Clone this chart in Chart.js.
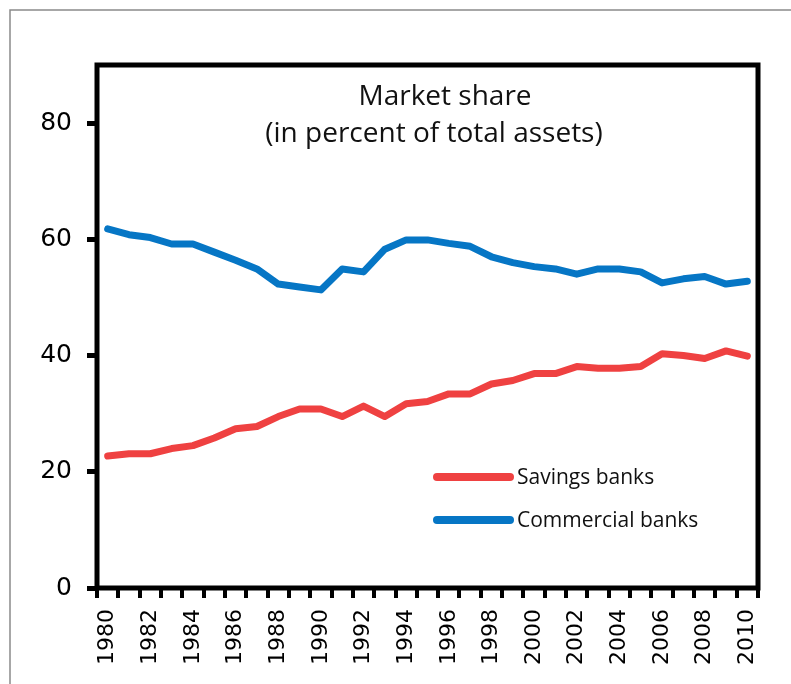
<!DOCTYPE html>
<html>
<head>
<meta charset="utf-8">
<style>
  html, body { margin: 0; padding: 0; background: #fff; }
</style>
<script src="https://cdn.jsdelivr.net/npm/chart.js@4"></script>
</head>
<body>
<canvas id="shareChart" width="791" height="684"></canvas>
<script>
const years = ["1980", "1981", "1982", "1983", "1984", "1985", "1986", "1987", "1988", "1989",
  "1990", "1991", "1992", "1993", "1994", "1995", "1996", "1997", "1998", "1999",
  "2000", "2001", "2002", "2003", "2004", "2005", "2006", "2007", "2008", "2009", "2010"];

// Savings banks, percent of total assets
const savings = [22.7, 23.1, 23.1, 24.0, 24.5, 25.8, 27.4, 27.8, 29.5, 30.8,
  30.8, 29.5, 31.3, 29.5, 31.7, 32.1, 33.4, 33.4, 35.1, 35.7,
  36.9, 36.9, 38.1, 37.8, 37.8, 38.1, 40.3, 40.0, 39.5, 40.8, 39.9];

// Commercial banks
const commercial = [61.8, 60.8, 60.3, 59.2, 59.2, 57.8, 56.4, 54.9, 52.3, 51.8,
  51.3, 54.9, 54.4, 58.3, 59.9, 59.9, 59.3, 58.8, 57.0, 56.0,
  55.3, 54.9, 54.0, 54.9, 54.9, 54.4, 52.5, 53.2, 53.6, 52.3, 52.8];

const yTicks = [0, 20, 40, 60, 80];
const titleLines = ["Market share", "(in percent of total assets)"];

const RED = "#ef4141";
const BLUE = "#0676c5";

// frame, title and legend drawn inside the plot
const decorations = {
  id: "decorations",
  beforeDraw(chart) {
    const ctx = chart.ctx;
    ctx.save();
    ctx.strokeStyle = "#8a8a8a";
    ctx.lineWidth = 1.5;
    ctx.beginPath();
    ctx.moveTo(10, chart.height);
    ctx.lineTo(10, 10);
    ctx.lineTo(chart.width, 10);
    ctx.stroke();
    ctx.restore();
  },
  afterDraw(chart) {
    const ctx = chart.ctx;
    const a = chart.chartArea;
    ctx.save();
    ctx.strokeStyle = "#000";
    ctx.lineWidth = 5;
    ctx.strokeRect(a.left, a.top, a.right - a.left, a.bottom - a.top);

    // title
    ctx.fillStyle = "#111";
    ctx.font = "28px 'Open Sans'";
    ctx.textAlign = "center";
    ctx.textBaseline = "middle";
    ctx.fillText(titleLines[0], a.left + 348, a.top + 32);
    ctx.fillText(titleLines[1], a.left + 337, a.top + 69);

    // legend
    ctx.font = "21px 'Open Sans'";
    ctx.textAlign = "left";
    ctx.lineCap = "round";
    ctx.lineWidth = 8;
    chart.data.datasets.forEach((ds, i) => {
      const y = a.top + 412 + i * 43;
      ctx.strokeStyle = ds.borderColor;
      ctx.beginPath();
      ctx.moveTo(a.left + 340, y);
      ctx.lineTo(a.left + 413, y);
      ctx.stroke();
      ctx.fillText(ds.label, a.left + 420, y + 1);
    });
    ctx.restore();
  },
};

const ctx = document.getElementById("shareChart").getContext("2d");
new Chart(ctx, {
  type: "line",
  data: {
    labels: years,
    datasets: [
      {
        label: "Savings banks",
        data: savings,
        borderColor: RED,
        borderWidth: 7,
        pointRadius: 0,
        tension: 0,
        borderCapStyle: "round",
        borderJoinStyle: "round",
      },
      {
        label: "Commercial banks",
        data: commercial,
        borderColor: BLUE,
        borderWidth: 7,
        pointRadius: 0,
        tension: 0,
        borderCapStyle: "round",
        borderJoinStyle: "round",
      },
    ],
  },
  options: {
    responsive: false,
    animation: false,
    layout: { padding: { left: 0, top: 65, right: 33, bottom: 0 } },
    plugins: {
      legend: { display: false },
      title: { display: false },
      tooltip: { enabled: false },
    },
    scales: {
      x: {
        offset: true,
        afterFit: (scale) => { scale.height = 96; },
        border: { display: false },
        grid: {
          offset: true,
          drawOnChartArea: false,
          drawTicks: true,
          tickLength: 10,
          lineWidth: 4,
          color: "#000",
        },
        ticks: {
          autoSkip: false,
          minRotation: 90,
          maxRotation: 90,
          padding: 11,
          color: "#000",
          font: { family: "DejaVu Sans", size: 22 },
          callback: (val, i) => (i % 2 === 0 ? years[i] : ""),
        },
      },
      y: {
        min: 0,
        max: 90,
        afterFit: (scale) => { scale.width = 97; },
        afterBuildTicks: (scale) => {
          scale.ticks = yTicks.map((v) => ({ value: v }));
        },
        border: { display: false },
        grid: {
          drawOnChartArea: false,
          drawTicks: true,
          tickLength: 10,
          lineWidth: 5,
          color: "#000",
        },
        ticks: {
          padding: 15,
          color: "#000",
          font: { family: "DejaVu Sans", size: 25 },
        },
      },
    },
  },
  plugins: [decorations],
});
</script>
</body>
</html>
